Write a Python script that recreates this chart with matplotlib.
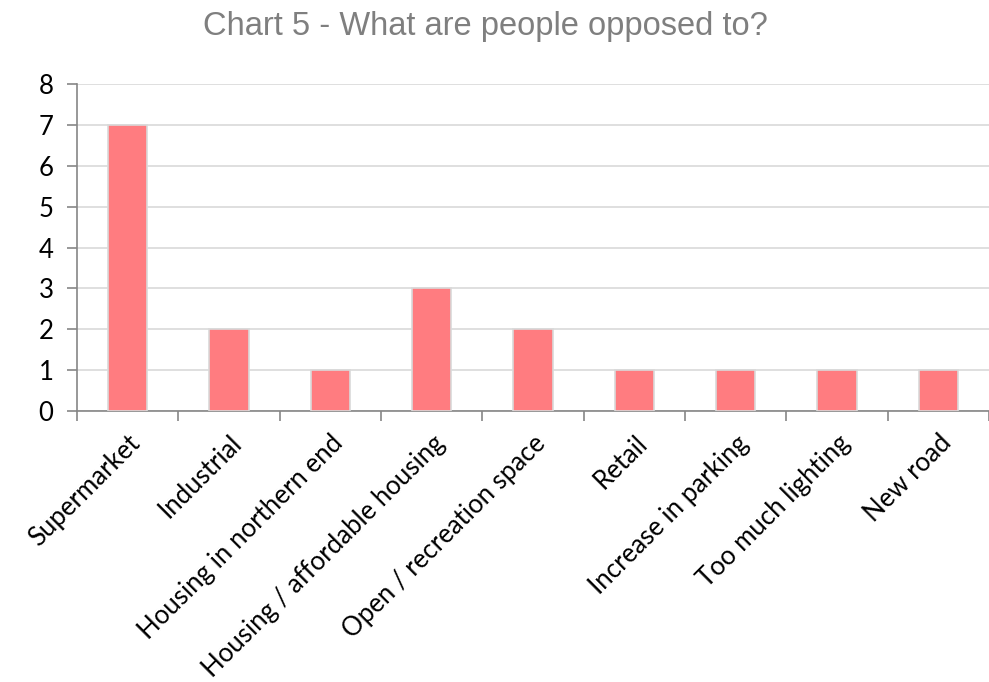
import numpy as np
import matplotlib.pyplot as plt

categories = [
    "Supermarket",
    "Industrial",
    "Housing in northern end",
    "Housing / affordable housing",
    "Open / recreation space",
    "Retail",
    "Increase in parking",
    "Too much lighting",
    "New road",
]
counts = [7, 2, 1, 3, 2, 1, 1, 1, 1]

fig = plt.figure(figsize=(9.89, 6.82), dpi=100)
ax = fig.add_axes([77 / 989, 1 - 411 / 682, 912 / 989, 327 / 682])

x = np.arange(len(categories))
ax.bar(x, counts, width=0.39, color="#ff7c80", edgecolor="#d9d9d9", linewidth=1.2, zorder=3)

ax.set_xlim(-0.5, len(categories) - 0.5)
ax.set_ylim(0, 8)
ax.set_yticks(range(0, 9))
ax.yaxis.grid(True, color="#d9d9d9", linewidth=1.2, zorder=0)

# category boundaries carry the tick marks, labels sit at bar centres
ax.set_xticks(np.arange(-0.5, len(categories)), minor=False)
ax.set_xticklabels([])
ax.set_xticks(x, minor=True)
ax.set_xticklabels(categories, minor=True, rotation=45, ha="right",
                   rotation_mode="anchor", fontsize=18.5, family="Lato")
ax.tick_params(axis="x", which="minor", length=0, pad=14)
ax.tick_params(axis="x", which="major", length=7, width=1.2, color="#868686")
ax.tick_params(axis="y", length=7, width=1.2, color="#868686", labelsize=18.5, pad=10)
for lbl in ax.get_yticklabels():
    lbl.set_family("Lato")

for side in ["top", "right"]:
    ax.spines[side].set_visible(False)
for side in ["left", "bottom"]:
    ax.spines[side].set_color("#868686")
    ax.spines[side].set_linewidth(1.2)

fig.text(485 / 989, 1 - 26 / 682, "Chart 5 - What are people opposed to?",
         ha="center", va="center", fontsize=23.5, color="#7f7f7f",
         family="Liberation Sans")

fig.savefig("out.png", dpi=100)
